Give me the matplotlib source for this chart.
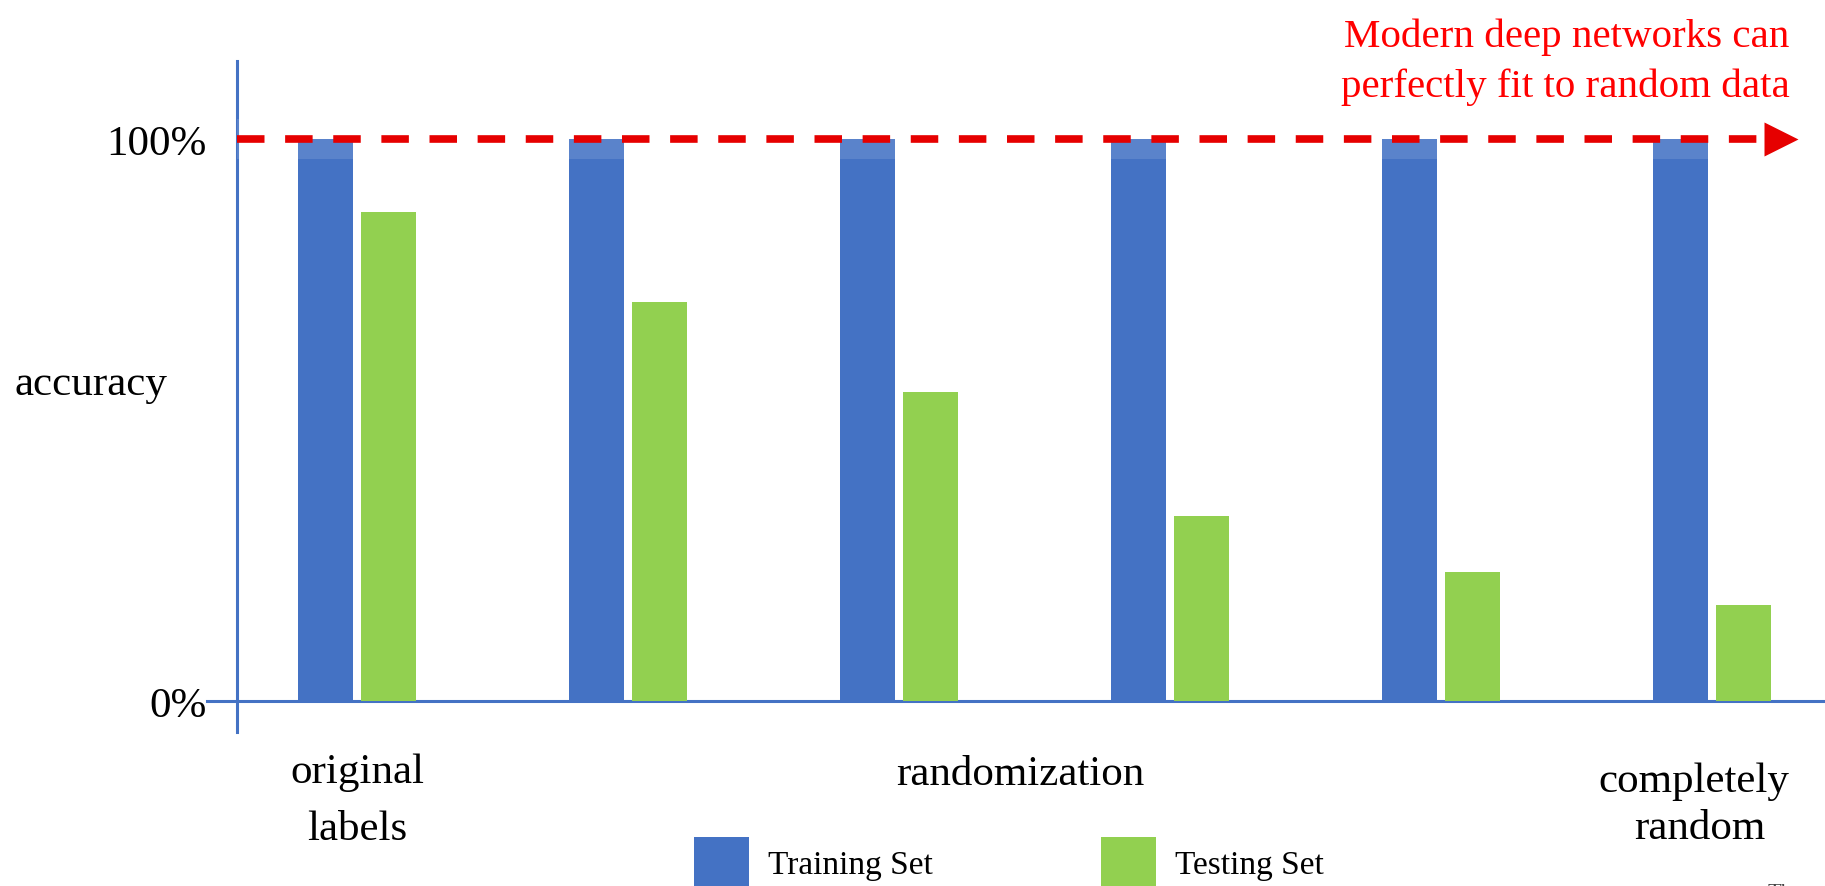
import numpy as np
import matplotlib
matplotlib.use("Agg")
import matplotlib.pyplot as plt
from matplotlib.patches import Patch

# accuracy per stage of label randomization
train_acc = [1.0, 1.0, 1.0, 1.0, 1.0, 1.0]
test_acc = [0.87, 0.71, 0.55, 0.33, 0.23, 0.17]
series = ["Training Set", "Testing Set"]
yticks = [0, 1]
ytick_labels = ["0%", "100%"]

blue = "#4472C4"
green = "#92D050"
red = "#E60000"

plt.rcParams["font.family"] = ["Liberation Serif", "DejaVu Serif"]

fig = plt.figure(figsize=(18.25, 8.87), dpi=100)
ax = fig.add_axes([0.1299, 0.2086, 0.8701, 0.7914])

x = np.arange(len(train_acc))
w = 0.203
off = 0.116
ax.bar(x - off, train_acc, w, color=blue, zorder=3)
ax.bar(x + off, test_acc, w, color=green, zorder=3)

x0, x1 = -0.443, 5.417
ax.set_xlim(x0, x1)
ax.set_ylim(0, 1.249)
for s in ax.spines.values():
    s.set_visible(False)
ax.set_xticks([])
ax.set_yticks(yticks, ytick_labels, fontsize=31)
ax.tick_params(axis="y", length=0, pad=22)

# hand drawn axis lines that cross at the origin
ax.plot([x0, x0], [-0.055, 1.139], color=blue, lw=2.2, clip_on=False, zorder=2)
ax.plot([-0.554, x1], [0, 0], color=blue, lw=2.2, clip_on=False, zorder=2)

# pale strip behind the 100% line
ax.fill_between([x0 - 0.01, 5.2], 0.964, 1.036, color="white", alpha=0.12, lw=0, zorder=4)

# dashed 100% line with arrow head
ax.plot([x0, 5.196], [1, 1], color=red, lw=5.5, dashes=(3.6, 2.7), zorder=5)
ax.plot(5.256, 1, marker=">", ms=24.5, color=red, mec="none", clip_on=False, zorder=5)

# category labels under the axis
ax.text(0, -0.144, "original", fontsize=31, ha="center", va="baseline")
ax.text(0, -0.2456, "labels", fontsize=31, ha="center", va="baseline")
ax.text(2.446, -0.1477, "randomization", fontsize=31, ha="center", va="baseline")
ax.text(4.934, -0.1601, "completely", fontsize=31, ha="center", va="baseline")
ax.text(4.956, -0.2438, "random", fontsize=31, ha="center", va="baseline")

fig.text(0.0082, 0.5547, "accuracy", fontsize=31, ha="left", va="baseline")

fig.text(0.9805, 0.9474, "Modern deep networks can", fontsize=29.5, color="red",
         ha="right", va="baseline")
fig.text(0.9805, 0.8907, "perfectly fit to random data", fontsize=29.5, color="red",
         ha="right", va="baseline")

handles = [Patch(facecolor=blue), Patch(facecolor=green)]
fig.legend(handles, series, loc="upper left", bbox_to_anchor=(0.3803, 0.0552),
           ncol=2, frameon=False, fontsize=24, handlelength=1.65, handleheight=2.0,
           handletextpad=0.57, columnspacing=5.05, borderpad=0, borderaxespad=0)

fig.text(0.9688, 0.0034, "The", fontsize=16, color="#444444", ha="left", va="top")

fig.savefig("out.png", dpi=100)
